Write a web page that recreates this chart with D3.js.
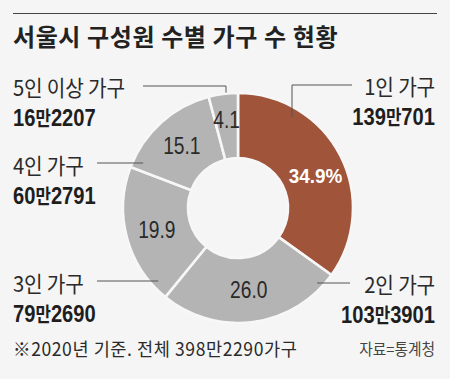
<!DOCTYPE html>
<html>
<head>
<meta charset="utf-8">
<script src="https://cdn.jsdelivr.net/npm/d3@7/dist/d3.min.js"></script>
<style>
  html, body { margin: 0; padding: 0; background: #f5f5f5; }
  svg { display: block; }
  .kr { font-family: "Noto Sans CJK KR", "Noto Sans", sans-serif; }
  .num { font-family: "Liberation Sans Narrow", "Arial Narrow", "Liberation Sans", sans-serif; }
</style>
</head>
<body>
<svg id="chart" width="450" height="379"></svg>
<script>
// ---- data ----
const title = "서울시 구성원 수별 가구 수 현황";
const categories = ["1인 가구", "2인 가구", "3인 가구", "4인 가구", "5인 이상 가구"];
const households = ["139만701", "103만3901", "79만2690", "60만2791", "16만2207"];
const shares = [34.9, 26.0, 19.9, 15.1, 4.1];
const shareLabels = ["34.9%", "26.0", "19.9", "15.1", "4.1"];
const footnote = "※2020년 기준. 전체 398만2290가구";
const source = "자료=통계청";

// ---- layout ----
const W = 450, H = 379;
const cx = 238, cy = 208, R = 115, r0 = 50;
const colors = ["#a0553a", "#b4b4b4", "#b4b4b4", "#b4b4b4", "#b4b4b4"];

const svg = d3.select("#chart");
svg.append("rect").attr("width", W).attr("height", H).attr("fill", "#f5f5f5");

function ctext(x, y, str, opts) {
  return svg.append("text").attr("class", opts.cls || "kr")
    .attr("transform", `translate(${x},${y}) scale(${opts.sx || 1},1)`)
    .attr("text-anchor", opts.anchor || "start")
    .attr("font-size", opts.size).attr("fill", opts.fill || "#2a2a2a")
    .attr("font-weight", opts.weight || 400)
    .attr("letter-spacing", opts.ls || 0)
    .text(str);
}

// top rule + title
svg.append("line").attr("x1", 13).attr("x2", 437).attr("y1", 13.5).attr("y2", 13.5)
  .attr("stroke", "#444").attr("stroke-width", 1);
ctext(13, 46, title, { size: 24, weight: 700, fill: "#222", ls: 0.6 });

const pie = d3.pie().sort(null).value(d => d)(shares);
const arc = d3.arc().innerRadius(r0).outerRadius(R);
const g = svg.append("g").attr("transform", `translate(${cx},${cy})`);

g.selectAll("path.slice").data(pie).join("path")
  .attr("class", "slice")
  .attr("d", arc)
  .attr("fill", (d, i) => colors[i])
  .attr("stroke", "#f7f7f7")
  .attr("stroke-width", 2.6);

// slice value labels
const labelR = [84, 82, 84, 84, 89];
const polar = (a, rr) => [Math.sin(a) * rr, -Math.cos(a) * rr];
g.selectAll("text.share").data(pie).join("text")
  .attr("class", "num share")
  .attr("transform", (d, i) => {
    const a = (d.startAngle + d.endAngle) / 2 + (i === 0 ? 0.08 : 0);
    const [x, y] = polar(a, labelR[i]);
    return `translate(${x},${y}) scale(${i === 0 ? 0.9 : 0.8},1)`;
  })
  .attr("text-anchor", "middle")
  .attr("dy", "0.36em")
  .attr("font-size", (d, i) => i === 0 ? 21 : 24)
  .attr("font-weight", (d, i) => i === 0 ? 700 : 400)
  .attr("fill", (d, i) => i === 0 ? "#ffffff" : "#2a2a2a")
  .text((d, i) => shareLabels[i]);

// category labels + leaders
const lab = [
  { side: "r", y: 95, leader: { ang: 31, rr: 106, elbowX: 292, lineY: 85, endX: 352 } },
  { side: "r", y: 293, leader: { ang: 133.5, rr: 109, lineY: 283, endX: 350 } },
  { side: "l", y: 292, leader: { ang: 227.6, rr: 108, lineY: 281, endX: 97 } },
  { side: "l", y: 174, leader: { ang: 295.4, rr: 105, lineY: 163, endX: 97 } },
  { side: "l", y: 96, leader: { ang: 354, rr: 116, elbowX: 226, lineY: 86, endX: 143 } }
];

lab.forEach((L, i) => {
  const x = L.side === "r" ? 435 : 13;
  const anchor = L.side === "r" ? "end" : "start";
  ctext(x, L.y, categories[i], { size: 22, sx: 0.92, anchor, fill: "#2a2a2a", ls: -0.2 });

  // bold household count: narrow digits + Hangul unit
  const parts = households[i].split("만");
  const t = svg.append("text")
    .attr("transform", `translate(${x},${L.y + 30}) scale(0.84,1)`)
    .attr("text-anchor", anchor).attr("font-weight", 700).attr("fill", "#1e1e1e");
  t.append("tspan").attr("class", "num").attr("font-size", 24).text(parts[0]);
  t.append("tspan").attr("class", "kr").attr("font-size", 20).text("만");
  t.append("tspan").attr("class", "num").attr("font-size", 24).text(parts[1]);

  const a = L.leader.ang * Math.PI / 180;
  const [px, py] = polar(a, L.leader.rr);
  const ex = cx + px, ey = cy + py;
  let pts;
  if (L.leader.elbowX !== undefined) {
    pts = [[L.leader.endX, L.leader.lineY], [L.leader.elbowX, L.leader.lineY], [L.leader.elbowX, ey]];
  } else {
    pts = [[L.leader.endX, L.leader.lineY], [ex, L.leader.lineY]];
  }
  svg.append("path").attr("d", d3.line()(pts))
    .attr("fill", "none").attr("stroke", "#555").attr("stroke-width", 1);
});

// footer
ctext(13, 356, footnote, { size: 18.5, sx: 0.95, fill: "#2a2a2a", ls: 0.6 });
ctext(435, 355, source, { size: 15.5, sx: 0.95, anchor: "end", fill: "#444" });
</script>
</body>
</html>
